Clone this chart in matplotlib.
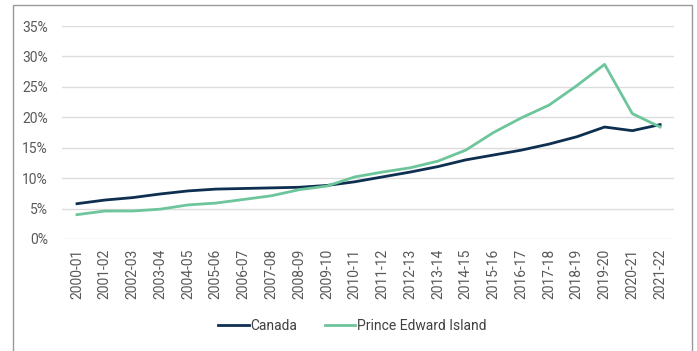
import matplotlib
matplotlib.use("Agg")
import matplotlib.pyplot as plt
from matplotlib.patches import Rectangle
from matplotlib.ticker import PercentFormatter

plt.rcParams['font.family'] = ['Roboto', 'DejaVu Sans']

# data
years = ["2000-01", "2001-02", "2002-03", "2003-04", "2004-05", "2005-06",
         "2006-07", "2007-08", "2008-09", "2009-10", "2010-11", "2011-12",
         "2012-13", "2013-14", "2014-15", "2015-16", "2016-17", "2017-18",
         "2018-19", "2019-20", "2020-21", "2021-22"]
canada = [5.8, 6.4, 6.8, 7.4, 7.9, 8.2, 8.3, 8.4, 8.5, 8.8, 9.4, 10.2,
          11.0, 11.9, 13.0, 13.8, 14.6, 15.6, 16.8, 18.4, 17.8, 18.8]
pei = [4.0, 4.6, 4.6, 4.9, 5.6, 5.9, 6.5, 7.1, 8.1, 8.7, 10.2, 11.0,
       11.7, 12.8, 14.6, 17.5, 19.9, 22.0, 25.2, 28.7, 20.6, 18.4]

fig = plt.figure(figsize=(6.97, 3.51), dpi=100)
ax = fig.add_axes([62/697, 112/351, 612/697, 213/351])

x = range(len(years))
ax.plot(x, canada, color="#0e2f4f", lw=2.0, label="Canada")
ax.plot(x, pei, color="#6dc59b", lw=2.0, label="Prince Edward Island")

ax.set_ylim(0, 35)
ax.set_yticks(range(0, 36, 5))
ax.yaxis.set_major_formatter(PercentFormatter(decimals=0))
ax.set_xlim(-0.54, 21.5)
ax.set_xticks(list(x))
ax.set_xticklabels(years, rotation=90)
ax.tick_params(length=0, labelsize=10, colors="#595959")
ax.tick_params(axis="y", pad=10)
ax.tick_params(axis="x", pad=7)
ax.grid(axis="y", color="#dcdcdc", lw=1)
ax.set_axisbelow(True)
for s in ax.spines.values():
    s.set_visible(False)

fig.legend(loc="center", bbox_to_anchor=(0.505, 1 - 326/351), ncol=2,
           frameon=False, fontsize=10, handlelength=2.2, handletextpad=0.1,
           columnspacing=2.0, labelcolor="#404040")

# outer frame
fig.patches.append(Rectangle((13/697, -0.02), 679/697, 1 - 5/351 + 0.02,
                             transform=fig.transFigure, fill=False,
                             edgecolor="#999999", lw=1))

fig.savefig("out.png", dpi=100)
